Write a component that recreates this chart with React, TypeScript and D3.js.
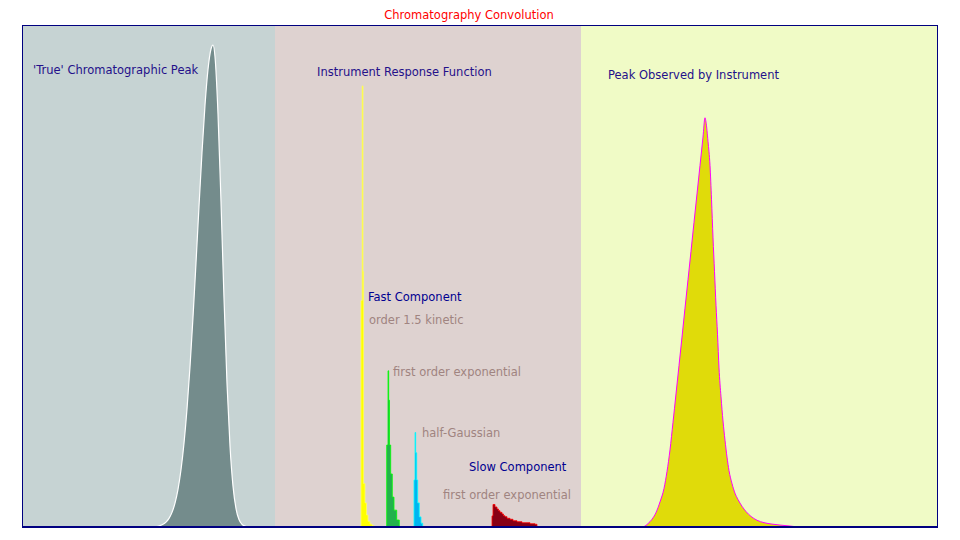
import React from 'react';
import * as d3 from 'd3';

// ---- data (time units along the axis, heights normalised to the true peak) ----
const bandStart = [0, 253, 559];
const bandEnd = [253, 559, 915];
const bandColor = ['#C6D3D3', '#DED2D0', '#F0FBC6'];

const trueTime = [133, 138, 141, 144, 147, 150, 153, 156, 159, 162, 165, 168, 171, 174, 177, 180, 183, 186, 189, 191, 193, 196, 199, 202, 205, 208, 211, 214, 217, 220, 223, 226];
const trueHeight = [0, 0.003, 0.0055, 0.0101, 0.0178, 0.0303, 0.0495, 0.0782, 0.1187, 0.1737, 0.2449, 0.3326, 0.435, 0.548, 0.665, 0.7774, 0.8753, 0.9493, 0.9917, 1, 0.9756, 0.857, 0.674, 0.474, 0.298, 0.168, 0.0847, 0.0382, 0.0154, 0.0056, 0.0018, 0];

const obsTime = [618, 622, 626, 630, 634, 638, 642, 645, 648, 651, 654, 657, 660, 663, 666, 669, 672, 675, 678, 681, 683, 684, 686, 688, 689.5, 691, 692.5, 694, 695.5, 697, 699, 701, 703, 705, 707, 710, 713, 716, 720, 724, 729, 735, 742, 750, 758, 768, 776];
const obsHeight = [0, 0.001, 0.007, 0.016, 0.03, 0.052, 0.08, 0.115, 0.16, 0.217, 0.276, 0.335, 0.394, 0.454, 0.513, 0.572, 0.632, 0.691, 0.75, 0.809, 0.849, 0.84, 0.8, 0.75, 0.68, 0.6, 0.53, 0.46, 0.4, 0.33, 0.27, 0.22, 0.18, 0.145, 0.117, 0.09, 0.07, 0.057, 0.043, 0.032, 0.022, 0.014, 0.009, 0.006, 0.004, 0.002, 0];

// order 1.5 kinetic (fast)
const k15Time = [339, 340.2, 341, 341.6, 343, 344.5, 346, 348, 350, 352];
const k15Height = [0.47, 0.915, 0.53, 0.09, 0.05, 0.025, 0.012, 0.006, 0.003, 0];
// first order exponential (fast)
const expFastTime = [364.7, 366, 366.7, 367.5, 368.7, 370.3, 372, 374.7, 377.3];
const expFastHeight = [0.17, 0.324, 0.263, 0.17, 0.11, 0.062, 0.035, 0.0145, 0];
// half-Gaussian
const halfGTime = [392, 393, 393.7, 394.7, 395.7, 397.3, 399, 400.7];
const halfGHeight = [0.0975, 0.196, 0.154, 0.0975, 0.05, 0.021, 0.008, 0];
// first order exponential (slow)
const expSlowTime = [470, 471, 473, 475, 476.5, 478, 480, 481.5, 483, 485, 488, 491, 495, 500, 508, 513, 515];
const expSlowHeight = [0.023, 0.0467, 0.0415, 0.0373, 0.0338, 0.0304, 0.027, 0.0234, 0.0214, 0.018, 0.016, 0.013, 0.011, 0.0089, 0.0068, 0.0056, 0];

const irfTimes = [k15Time, expFastTime, halfGTime, expSlowTime];
const irfHeights = [k15Height, expFastHeight, halfGHeight, expSlowHeight];
const irfFill = ['#FFFF00', '#22B14C', '#00B4F0', '#880015'];
const irfStroke = ['#FFFF60', '#00FF00', '#00FFFF', '#FF0000'];

const W = 960;
const H = 540;
const L = 22, R = 937, T = 25, B = 527;
const FONT = "'DejaVu Sans', Verdana, sans-serif";
const FS = 11.5;

export default function App() {
  const x = d3.scaleLinear().domain([0, 915]).range([L, R]);
  const y = d3.scaleLinear().domain([0, 1.0415]).range([B, T]);

  const smoothArea = d3.area<[number, number]>()
    .x(d => x(d[0]))
    .y0(y(0))
    .y1(d => y(d[1]))
    .curve(d3.curveMonotoneX);
  const smoothLine = d3.line<[number, number]>()
    .x(d => x(d[0]))
    .y(d => y(d[1]))
    .curve(d3.curveMonotoneX);
  const stepArea = d3.area<[number, number]>()
    .x(d => x(d[0]))
    .y0(y(0))
    .y1(d => y(d[1]))
    .curve(d3.curveStepAfter);

  const truePts = trueTime.map((t, i) => [t, trueHeight[i]] as [number, number]);
  const obsPts = obsTime.map((t, i) => [t, obsHeight[i]] as [number, number]);

  return (
    <svg width={W} height={H} style={{ position: 'absolute', left: 0, top: 0, background: '#fff' }}>
      <text x={469} y={19} textAnchor="middle" fill="#FF0000" fontFamily={FONT} fontSize={FS}>Chromatography Convolution</text>
      {bandStart.map((s, i) => (
        <rect key={i} x={x(s)} y={T} width={x(bandEnd[i]) - x(s)} height={B - T} fill={bandColor[i]} />
      ))}
      <path d={smoothArea(truePts) || ''} fill="#748C8C" />
      <path d={smoothLine(truePts) || ''} fill="none" stroke="#FFFFFF" strokeWidth={1.2} />

      {irfTimes.map((ts, k) => {
        const pts = ts.map((t, i) => [t, irfHeights[k][i]] as [number, number]);
        return <path key={k} d={stepArea(pts) || ''} fill={irfFill[k]} stroke={irfStroke[k]} strokeWidth={0.8} />;
      })}

      <path d={smoothArea(obsPts) || ''} fill="#E0DB0A" />
      <path d={smoothLine(obsPts) || ''} fill="none" stroke="#FF00FF" strokeWidth={1} />

      <g fontFamily={FONT} fontSize={FS}>
        <text x={33} y={74} fill="#24108A">'True' Chromatographic Peak</text>
        <text x={317} y={76} fill="#24108A">Instrument Response Function</text>
        <text x={608} y={79} fill="#24108A">Peak Observed by Instrument</text>
        <text x={368} y={301} fill="#000090">Fast Component</text>
        <text x={369} y={324} fill="#A08480">order 1.5 kinetic</text>
        <text x={393} y={376} fill="#A08480">first order exponential</text>
        <text x={422} y={437} fill="#A08480">half-Gaussian</text>
        <text x={469} y={471} fill="#000090">Slow Component</text>
        <text x={443} y={499} fill="#A08480">first order exponential</text>
      </g>

      <rect x={L + 0.5} y={T + 0.5} width={R - L} height={B - T} fill="none" stroke="#000080" strokeWidth={1} />
      <line x1={L} x2={R + 1} y1={B} y2={B} stroke="#000080" strokeWidth={2} />
    </svg>
  );
}
